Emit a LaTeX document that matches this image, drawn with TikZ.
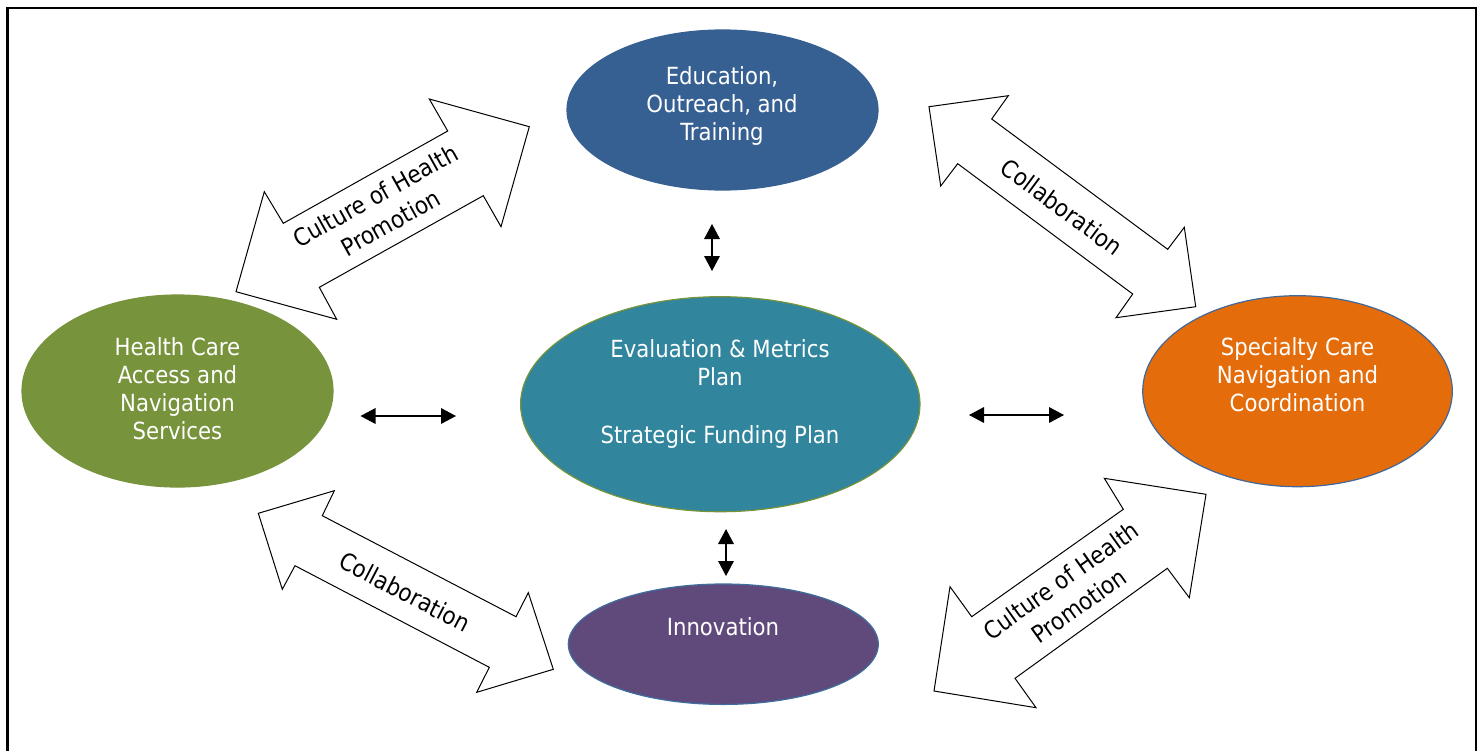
\documentclass[tikz,border=0pt]{standalone}
\usepackage{fontspec}
\setmainfont{DejaVu Sans Condensed}
\usetikzlibrary{shapes.geometric,arrows.meta}

\definecolor{eduBlue}{HTML}{376092}
\definecolor{accessGreen}{HTML}{77933C}
\definecolor{evalTeal}{HTML}{31859C}
\definecolor{specOrange}{HTML}{E46C0A}
\definecolor{specEdge}{HTML}{41689A}
\definecolor{innoPurple}{HTML}{604A7B}
\definecolor{innoEdge}{HTML}{3F6E9E}

\tikzset{
  blob/.style={ellipse, inner sep=0pt, line width=0.6pt},
  blobtext/.style={text=white, align=center, font=\fontsize{11.8}{14}\selectfont},
  blockarrow/.style={draw=black, fill=white, line width=0.5pt, line join=miter},
  arrowtext/.style={align=center, font=\fontsize{12}{15.5}\selectfont},
  linkarrow/.style={line width=0.65pt,
    {Triangle[length=7.5pt,width=7.8pt]}-{Triangle[length=7.5pt,width=7.8pt]}}
}

\begin{document}
\begin{tikzpicture}[x=0.5pt, y=-0.5pt]
\useasboundingbox (0,0) rectangle (1481,750);
\fill[white] (0,0) rectangle (1481,750);

% frame
\draw[line width=1.35pt] (7.5,8) rectangle (1476,770);

% block arrows between the outer topics
\draw[blockarrow] (529.3,126.7) -- (501,226.7) -- (483.3,195.7) -- (319.3,287.3)
  -- (336.7,319.3) -- (236,291.7) -- (264.3,191.7) -- (283.3,223.3)
  -- (447.7,131) -- (429.3,99) -- cycle;
\draw[blockarrow] (929,106.7) -- (1008.3,95.7) -- (991.7,119) -- (1167.7,249.3)
  -- (1184.3,227.3) -- (1195.7,306.7) -- (1116,317.7) -- (1132.7,294)
  -- (957.7,163.7) -- (940.7,186) -- cycle;
\draw[blockarrow] (258.3,513.3) -- (334.3,490.7) -- (322.3,515.7) -- (516,616.7)
  -- (528.3,592.7) -- (553.3,669.3) -- (476.7,692.3) -- (489.3,667.3)
  -- (295,565.7) -- (282.3,589.3) -- cycle;
\draw[blockarrow] (1206,494.3) -- (1104.3,478.3) -- (1123.3,509.3) -- (971.7,616.7)
  -- (950,586.7) -- (934,691) -- (1036,707.7) -- (1015,678.3)
  -- (1167.3,568.3) -- (1189.3,597.7) -- cycle;

\node[arrowtext, rotate=29.2] (cultureA) at (383,209) {Culture of Health\\Promotion};
\node[arrowtext, rotate=-36.6] (collabA) at (1062,207) {Collaboration};
\node[arrowtext, rotate=-27.5] (collabB) at (405,592) {Collaboration};
\node[arrowtext, rotate=35.5] (cultureB) at (1070,593) {Culture of Health\\Promotion};

% topic ellipses
\node[blob, fill=eduBlue, draw=eduBlue, minimum width=155.5pt, minimum height=80pt] (edu) at (722.5,110) {};
\node[blob, fill=accessGreen, draw=accessGreen, minimum width=155.5pt, minimum height=96pt] (access) at (177.5,391) {};
\node[blob, fill=evalTeal, draw=accessGreen, minimum width=199.7pt, minimum height=107.5pt] (eval) at (720.3,404.2) {};
\node[blob, fill=specOrange, draw=specEdge, minimum width=154.8pt, minimum height=95.5pt] (spec) at (1297.5,391.2) {};
\node[blob, fill=innoPurple, draw=innoEdge, minimum width=155pt, minimum height=60.2pt] (inno) at (723.3,644.2) {};

\node[blobtext] (eduText) at (722,106) {Education,\\Outreach, and\\Training};
\node[blobtext] (accessText) at (177.5,388.5) {Health Care\\Access and\\Navigation\\Services};
\node[blobtext] (evalText) at (720,393.5) {Evaluation \& Metrics\\Plan\\[15pt]Strategic Funding Plan};
\node[blobtext] (specText) at (1297.5,375) {Specialty Care\\Navigation and\\Coordination};
\node[blobtext] (innoText) at (723,627) {Innovation};

% small two-way links around the centre
\coordinate (upTop) at (712,224);
\coordinate (upBot) at (712,271);
\coordinate (downTop) at (726,529);
\coordinate (downBot) at (726,576);
\coordinate (leftA) at (360.5,416);
\coordinate (leftB) at (456,416);
\coordinate (rightA) at (969,415);
\coordinate (rightB) at (1064,415);

\draw[linkarrow] (upTop) -- (upBot);
\draw[linkarrow] (downTop) -- (downBot);
\draw[linkarrow] (leftA) -- (leftB);
\draw[linkarrow] (rightA) -- (rightB);
\end{tikzpicture}
\end{document}
